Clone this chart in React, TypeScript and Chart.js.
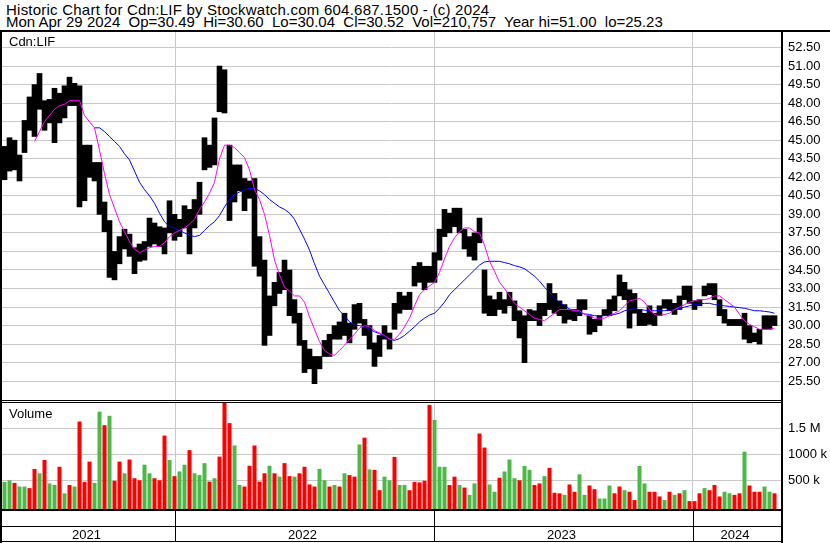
import { useEffect, useRef } from 'react';
import { Chart, registerables } from 'chart.js';

Chart.register(...registerables);

// ---- data (one entry per week, Apr 2021 .. Apr 29 2024) ----
const weekHigh = [
  44.5, 45.2, 45.0, 43.8, 46.6, 48.5, 49.5, 50.4, 48.2, 48.3,
  49.2, 48.8, 49.4, 50.1, 49.6, 49.4, 44.6, 44.6, 43.2, 43.2,
  40.0, 38.5, 36.0, 37.2, 37.8, 37.4, 36.3, 36.6, 36.8, 38.7,
  38.3, 38.0, 37.9, 40.1, 39.0, 38.6, 39.7, 39.4, 40.2, 41.6,
  45.2, 44.6, 46.8, 51.0, 50.7, 44.6, 43.0, 43.0, 41.9, 41.7,
  41.9, 37.2, 35.3, 32.4, 33.5, 34.3, 35.3, 34.5, 32.1, 31.0,
  28.8, 28.1, 27.5, 27.5, 28.8, 29.3, 30.0, 30.3, 31.0, 30.2,
  31.7, 31.8, 30.5, 30.0, 28.6, 29.2, 30.0, 29.4, 31.8, 32.7,
  32.4, 32.7, 34.8, 35.1, 34.8, 34.8, 35.9, 37.8, 39.4, 39.1,
  39.5, 39.5, 37.8, 37.2, 37.5, 38.7, 34.5, 32.4, 32.1, 32.7,
  32.1, 32.7, 32.0, 31.2, 30.8, 31.3, 31.2, 31.8, 31.8, 33.4,
  32.6, 32.0, 31.7, 31.3, 31.3, 32.1, 32.1, 30.8, 30.5, 30.8,
  31.3, 32.1, 32.4, 34.1, 33.5, 32.9, 32.6, 31.3, 31.0, 31.6,
  31.0, 31.6, 32.1, 32.1, 31.8, 32.4, 33.2, 33.2, 32.0, 32.1,
  33.2, 33.4, 33.4, 32.1, 31.3, 30.5, 30.5, 30.5, 31.0, 30.0,
  29.4, 29.7, 30.8, 30.8, 30.8,
];

const weekLow = [
  41.8, 42.5, 42.6, 41.7, 44.0, 45.8, 45.3, 47.5, 45.8, 46.4,
  44.8, 46.4, 46.8, 47.8, 47.8, 39.6, 40.1, 42.0, 41.7, 39.0,
  37.6, 33.9, 33.7, 35.0, 36.2, 35.6, 34.2, 35.2, 35.3, 36.4,
  36.6, 36.4, 35.8, 37.5, 36.9, 37.2, 37.9, 35.8, 37.9, 39.0,
  42.6, 42.8, 43.0, 47.3, 47.2, 38.5, 40.0, 40.9, 39.3, 40.3,
  34.8, 34.0, 28.4, 29.2, 31.6, 32.6, 32.9, 30.8, 30.2, 28.4,
  26.2, 26.5, 25.3, 26.5, 27.5, 27.5, 28.9, 28.9, 29.2, 28.6,
  29.7, 30.2, 29.2, 28.1, 26.7, 27.5, 28.9, 28.1, 29.7, 31.0,
  31.3, 31.3, 33.2, 33.5, 32.9, 33.5, 33.5, 35.3, 37.2, 37.5,
  38.0, 37.5, 36.2, 35.6, 35.3, 36.7, 31.0, 30.8, 30.8, 31.3,
  31.0, 31.6, 30.4, 29.0, 27.0, 30.4, 30.4, 30.0, 30.8, 31.3,
  31.0, 30.8, 30.2, 30.5, 30.4, 30.8, 31.3, 29.3, 29.5, 30.0,
  30.8, 30.8, 31.2, 32.4, 32.1, 29.8, 31.0, 30.0, 30.0, 30.1,
  30.0, 30.8, 31.4, 31.2, 30.9, 31.3, 32.1, 31.8, 31.3, 31.6,
  32.4, 32.5, 32.1, 30.8, 30.2, 30.0, 30.0, 30.0, 28.9, 28.6,
  28.7, 28.5, 29.7, 29.7, 30.0,
];

// short moving average (magenta), null before it starts
const maShort = [
  null, null, null, null, null, null,
  44.9, 45.7, 46.5, 47.0, 47.5, 47.8, 47.9, 48.2, 48.2, 48.2,
  47.0, 46.5, 46.0, 44.2, 42.3, 40.6, 39.5, 38.4, 37.6, 36.8,
  36.2, 35.9, 36.1, 36.3, 36.4, 36.4, 36.7, 37.2, 37.5, 37.7,
  37.9, 38.2, 38.6, 39.4, 40.0, 40.7, 41.6, 43.5, 44.6, 44.6,
  44.4, 44.0, 43.6, 42.6, 41.0, 40.2, 39.0, 37.3, 35.3, 34.1,
  33.1, 32.8, 32.4, 32.4, 31.9, 30.7, 29.7, 28.7, 28.0, 27.7,
  27.6, 28.0, 28.4, 28.9, 29.3, 29.8, 30.0, 29.9, 29.6, 29.4,
  29.2, 28.9, 28.9, 29.3, 29.9, 30.6, 31.6, 32.5, 32.9, 33.2,
  33.5, 34.3, 35.4, 36.4, 37.1, 37.6, 37.9, 37.9, 37.6, 37.5,
  36.5, 35.2, 34.4, 33.5, 33.0, 32.4, 31.8, 31.5, 31.2, 30.9,
  30.6, 30.5, 30.4, 30.7, 31.0, 31.3, 31.3, 31.3, 31.2, 31.2,
  30.9, 30.8, 30.6, 30.6, 30.6, 30.8, 31.0, 31.2, 31.6, 32.0,
  32.1, 32.2, 31.9, 31.3, 30.9, 30.8, 30.9, 31.0, 31.3, 31.5,
  31.7, 31.9, 32.0, 32.1, 32.1, 32.2, 32.4, 32.4, 32.1, 31.8,
  31.5, 30.9, 30.4, 30.1, 29.9, 29.7, 29.7, 29.7, 29.8,
];

// long moving average (blue), null before it starts
const maLong = [
  null, null, null, null, null, null, null, null, null, null,
  null, null, null, null, null, null, null, null,
  46.0, 46.0, 45.7, 45.3, 44.9, 44.5, 43.9, 43.4, 42.5, 41.6,
  41.0, 40.5, 39.9, 39.1, 38.4, 38.0, 37.9, 37.7, 37.5, 37.3,
  37.2, 37.3, 37.7, 38.1, 38.4, 38.9, 39.6, 40.2, 40.6, 40.8,
  41.0, 41.1, 41.1, 40.9, 40.6, 40.2, 39.9, 39.6, 39.4, 39.1,
  38.6, 37.8, 37.0, 36.1, 35.0, 34.0, 33.3, 32.6, 31.9, 31.2,
  30.8, 30.3, 30.05, 30.0, 29.9, 29.7, 29.5, 29.35, 29.1, 28.9,
  28.8, 28.95, 29.2, 29.55, 29.9, 30.3, 30.6, 30.85, 31.0, 31.4,
  31.9, 32.5, 32.9, 33.3, 33.7, 34.1, 34.5, 34.9, 35.15, 35.2,
  35.2, 35.2, 35.1, 35.0, 34.85, 34.75, 34.6, 34.3, 34.0, 33.6,
  33.1, 32.7, 32.2, 31.9, 31.6, 31.35, 31.2, 31.05, 30.95, 30.9,
  30.8, 30.8, 30.8, 30.85, 30.9, 31.0, 31.2, 31.3, 31.35, 31.3,
  31.25, 31.2, 31.2, 31.2, 31.2, 31.25, 31.35, 31.4, 31.5, 31.6,
  31.7, 31.75, 31.8, 31.8, 31.7, 31.65, 31.6, 31.55, 31.5, 31.45,
  31.4, 31.3, 31.2, 31.2, 31.15, 31.1, 31.0,
];

// weekly volume, thousands of shares
const volumeK = [
  470, 500, 450, 380, 380, 350, 718, 635, 890, 440,
  410, 760, 250, 410, 380, 1630, 470, 860, 450, 1820,
  1560, 1740, 490, 860, 635, 900, 540, 500, 800, 635,
  540, 500, 1360, 890, 580, 670, 800, 1080, 635, 600,
  830, 475, 540, 955, 2000, 1600, 1170, 410, 380, 780,
  1170, 475, 635, 780, 635, 570, 830, 580, 570, 635,
  760, 420, 380, 720, 500, 380, 410, 380, 635, 600,
  570, 1190, 1320, 710, 700, 310, 570, 500, 950, 410,
  410, 310, 470, 460, 490, 1950, 1660, 760, 760, 410,
  570, 410, 360, 220, 440, 1400, 1130, 420, 280, 550,
  670, 900, 540, 500, 775, 700, 410, 440, 580, 740,
  260, 250, 220, 420, 280, 615, 220, 400, 330, 150,
  150, 400, 250, 380, 310, 280, 120, 775, 440, 280,
  280, 190, 120, 280, 220, 250, 310, 100, 100, 250,
  350, 310, 410, 190, 280, 250, 220, 250, 1050, 400,
  280, 280, 380, 280, 250,
];

// u = up week (green), d = down week (red)
const volumeDir = [
  'uuduuddudu', 'udududdduu', 'dudduddduu', 'ddduduuduu', 'ududdduudd',
  'dddududdud', 'ddduududud', 'dududduudu', 'uddddduuud',
  'duduudduud', 'uuuduuddud', 'ddudduuddu', 'uuddudduud', 'ddudududdd',
  'uddduuddud', 'dduud',
].join('').split('');

const yearLabels = ['2021', '2022', '2023', '2024'];
const yearStarts = [34.6, 86.4, 138.2]; // week position of Jan 1
const priceTicks = [25.5, 27, 28.5, 30, 31.5, 33, 34.5, 36, 37.5, 39, 40.5, 42, 43.5, 45, 46.5, 48, 49.5, 51, 52.5];
const volumeTicks = [500000, 1000000, 1500000];
const volumeTickLabels = ['500 k', '1000 k', '1.5 M'];

// ---- layout ----
const W = 830;
const PLOT_LEFT = 2;
const PLOT_RIGHT = 781;
const PX_PER_WEEK = 5;
const X_MAX = (PLOT_RIGHT - PLOT_LEFT) / PX_PER_WEEK;
const PRICE_TOP = 32;
const PRICE_H = 368;
const PRICE_MIN = 23.98;
const PRICE_MAX = 53.754;
const VOL_TOP = 403;
const VOL_H = 106;
const VOL_MIN = -51900;
const VOL_MAX = 1986500;
const FONT = '"Liberation Sans", Arial, Helvetica, sans-serif';
const GRID = '#c8c8c8';
const GREEN = '#4cb848';
const RED = '#ff0000';

function noPad(s: any) {
  s.paddingTop = 0;
  s.paddingBottom = 0;
  s.paddingLeft = 0;
  s.paddingRight = 0;
}

function xAxis(): any {
  return {
    type: 'linear',
    min: 0,
    max: X_MAX,
    offset: false,
    afterBuildTicks: (s: any) => {
      s.ticks = yearStarts.map((v) => ({ value: v }));
    },
    ticks: { display: false },
    grid: { color: GRID, lineWidth: 1, drawTicks: false, offset: false },
    border: { display: false },
    afterFit: (s: any) => {
      s.height = 0;
      noPad(s);
    },
  };
}

function yAxis(min: number, max: number, ticks: number[], label: (v: number) => string): any {
  return {
    position: 'right',
    min,
    max,
    afterBuildTicks: (s: any) => {
      s.ticks = ticks.map((v) => ({ value: v }));
    },
    afterFit: (s: any) => {
      s.width = W - PLOT_RIGHT;
      noPad(s);
    },
    ticks: {
      autoSkip: false,
      padding: 7,
      color: '#000',
      font: { family: FONT, size: 13 },
      callback: (v: any) => label(Number(v)),
    },
    grid: { color: GRID, lineWidth: 1, drawTicks: false },
    border: { display: false },
  };
}

const baseOptions = {
  responsive: false,
  animation: false,
  devicePixelRatio: 1,
  layout: { padding: { left: PLOT_LEFT, right: 0, top: 0, bottom: 0 } },
  plugins: { legend: { display: false }, tooltip: { enabled: false } },
};

export default function App() {
  const priceRef = useRef<HTMLCanvasElement>(null);
  const volRef = useRef<HTMLCanvasElement>(null);

  useEffect(() => {
    const x = weekHigh.map((_, i) => i + 0.5);
    const pts = (arr: (number | null)[]) =>
      arr.map((v, i) => (v == null ? null : { x: x[i], y: v })).filter(Boolean);

    const price = new Chart(priceRef.current!, {
      type: 'bar',
      data: {
        datasets: [
          {
            type: 'line',
            data: pts(maShort) as any,
            borderColor: '#ff00ff',
            borderWidth: 1,
            pointRadius: 0,
            tension: 0,
            order: 0,
          } as any,
          {
            type: 'line',
            data: pts(maLong) as any,
            borderColor: '#0000ff',
            borderWidth: 1,
            pointRadius: 0,
            tension: 0,
            order: 0,
          } as any,
          {
            type: 'bar',
            data: x.map((xv, i) => ({ x: xv, y: [weekLow[i], weekHigh[i]] })) as any,
            backgroundColor: '#000000',
            borderWidth: 0,
            categoryPercentage: 1,
            barPercentage: 1,
            order: 1,
          },
        ],
      },
      options: {
        ...baseOptions,
        scales: {
          x: xAxis(),
          y: yAxis(PRICE_MIN, PRICE_MAX, priceTicks, (v) => v.toFixed(2)),
        },
      } as any,
    });

    const vol = new Chart(volRef.current!, {
      type: 'bar',
      data: {
        datasets: [
          {
            data: x.map((xv, i) => ({ x: xv, y: [VOL_MIN, volumeK[i] * 1000] })) as any,
            backgroundColor: x.map((_, i) => (volumeDir[i] === 'u' ? GREEN : RED)),
            borderWidth: 0,
            categoryPercentage: 1,
            barPercentage: 0.8,
          },
        ],
      },
      options: {
        ...baseOptions,
        scales: {
          x: xAxis(),
          y: yAxis(VOL_MIN, VOL_MAX, volumeTicks, (v) => volumeTickLabels[volumeTicks.indexOf(v)] ?? ''),
        },
      } as any,
    });

    return () => {
      price.destroy();
      vol.destroy();
    };
  }, []);

  const px = (v: number) => PLOT_LEFT + v * PX_PER_WEEK;
  const bounds = [PLOT_LEFT, ...yearStarts.map(px), PLOT_RIGHT];
  const black = (left: number, top: number, width: number, height: number, key: string) => (
    <div key={key} style={{ position: 'absolute', left, top, width, height, background: '#000' }} />
  );
  const text: any = { position: 'absolute', fontFamily: FONT, fontSize: 13, lineHeight: '14px', color: '#000', whiteSpace: 'pre' };
  const head: any = { ...text, fontSize: 15 };

  return (
    <div style={{ position: 'absolute', left: 0, top: 0, width: W, height: 543, background: '#fff', overflow: 'hidden' }}>
      <div style={{ ...head, left: 6, top: 2.8, letterSpacing: '0.23px' }}>Historic Chart for Cdn:LIF by Stockwatch.com 604.687.1500 - (c) 2024</div>
      <div style={{ ...head, left: 6, top: 15.1 }}>Mon Apr 29 2024  Op=30.49  Hi=30.60  Lo=30.04  Cl=30.52  Vol=210,757  Year hi=51.00  lo=25.23</div>
      <canvas ref={priceRef} width={W} height={PRICE_H} style={{ position: 'absolute', left: 0, top: PRICE_TOP, width: W, height: PRICE_H }} />
      <canvas ref={volRef} width={W} height={VOL_H} style={{ position: 'absolute', left: 0, top: VOL_TOP, width: W, height: VOL_H }} />
      <div style={{ ...text, left: 9, top: 34.5 }}>Cdn:LIF</div>
      <div style={{ ...text, left: 9, top: 406.5 }}>Volume</div>
      {black(0, 30, W, 2, 'top')}
      {black(0, 30, 2, 513, 'left')}
      {black(PLOT_RIGHT, 30, 2, 513, 'right')}
      {black(0, 400, PLOT_RIGHT + 2, 1, 'sep1')}
      {black(0, 402, PLOT_RIGHT + 2, 1, 'sep2')}
      {black(0, 509, PLOT_RIGHT + 2, 2, 'volbottom')}
      {black(0, 526, PLOT_RIGHT + 2, 1, 'strip')}
      {black(0, 541, PLOT_RIGHT + 2, 1, 'bottom')}
      {yearStarts.map((v, i) => black(Math.round(px(v)), 511, 1, 30, 'yd' + i))}
      {yearLabels.map((label, i) => (
        <div
          key={label}
          style={{ ...text, left: bounds[i], width: bounds[i + 1] - bounds[i] - 4, top: 527.5, textAlign: 'center' }}
        >
          {label}
        </div>
      ))}
    </div>
  );
}
